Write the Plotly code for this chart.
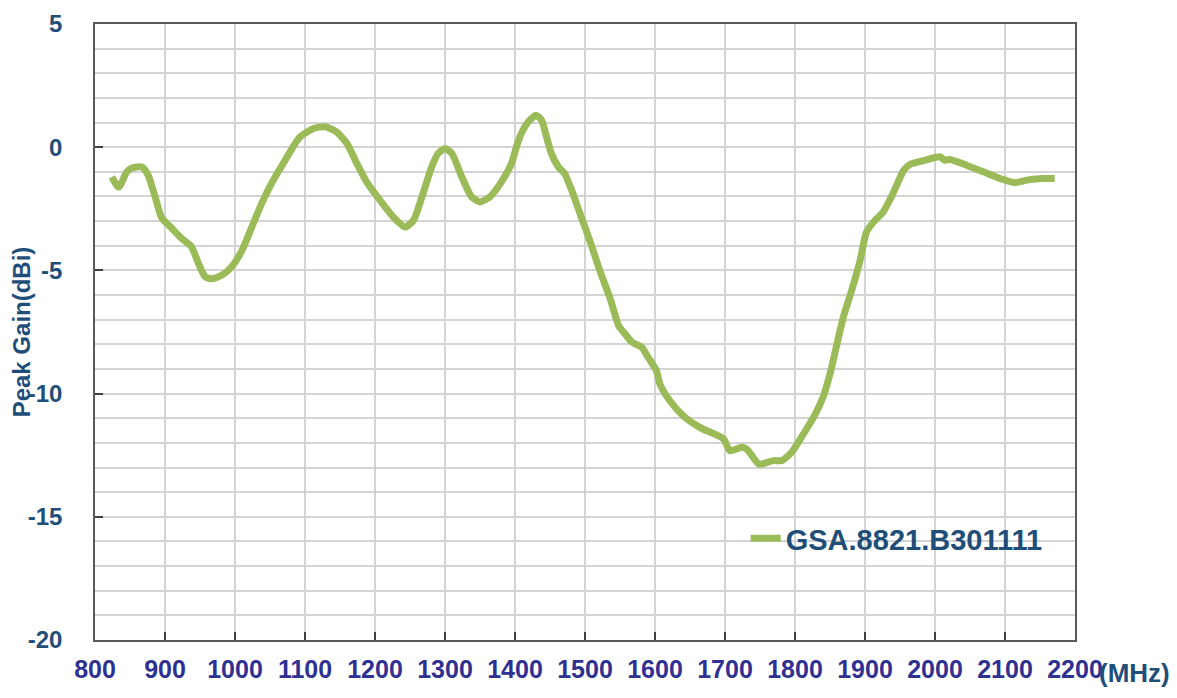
import plotly.graph_objects as go

freq_mhz = [824, 834, 845, 852, 867, 876, 886, 895, 910, 924, 938, 948, 957, 967, 981, 995,
            1010, 1024, 1038, 1052, 1067, 1086, 1093, 1112, 1129, 1145, 1160, 1174, 1188, 1207,
            1226, 1243, 1255, 1267, 1281, 1290, 1300, 1310, 1324, 1338, 1350, 1364, 1379, 1395,
            1402, 1410, 1419, 1430, 1438, 1445, 1452, 1462, 1471, 1481, 1493, 1507, 1521, 1536,
            1548, 1557, 1567, 1581, 1590, 1602, 1607, 1621, 1640, 1664, 1698, 1707, 1724, 1731,
            1748, 1752, 1769, 1781, 1795, 1812, 1829, 1840, 1850, 1860, 1869, 1881, 1893, 1902,
            1912, 1926, 1940, 1955, 1964, 1983, 2007, 2014, 2021, 2045, 2069, 2093, 2114, 2136,
            2155, 2171]
gain_dbi = [-1.21, -1.62, -1.02, -0.85, -0.80, -1.14, -2.02, -2.85, -3.30, -3.71, -4.05, -4.73,
            -5.25, -5.34, -5.20, -4.86, -4.19, -3.24, -2.29, -1.48, -0.75, 0.15, 0.42, 0.76, 0.83,
            0.62, 0.15, -0.66, -1.41, -2.15, -2.83, -3.24, -2.97, -2.02, -0.80, -0.26, -0.05,
            -0.26, -1.21, -2.02, -2.22, -2.02, -1.48, -0.66, 0.01, 0.62, 1.03, 1.30, 1.10, 0.42,
            -0.26, -0.80, -1.07, -1.75, -2.70, -3.80, -5.00, -6.15, -7.24, -7.57, -7.91, -8.12,
            -8.52, -9.07, -9.61, -10.28, -10.89, -11.37, -11.84, -12.32, -12.18, -12.25, -12.86,
            -12.86, -12.72, -12.72, -12.39, -11.64, -10.83, -10.15, -9.20, -7.98, -6.90, -5.81,
            -4.59, -3.45, -3.04, -2.63, -1.88, -0.95, -0.70, -0.55, -0.39, -0.53, -0.50, -0.73,
            -1.00, -1.27, -1.44, -1.31, -1.27, -1.27]
series_name = "GSA.8821.B301111"
x_ticks = list(range(800, 2201, 100))
y_ticks = [5, 0, -5, -10, -15, -20]

FONT = "Liberation Sans, Arial, sans-serif"
BLUE = "#1F4E79"
PURPLE = "#2E3192"

fig = go.Figure()
fig.add_trace(go.Scatter(
    x=freq_mhz, y=gain_dbi, mode="lines", name=series_name,
    line=dict(color="#9BBB59", width=7, shape="spline", smoothing=0.6),
))

fig.update_layout(
    width=1169, height=690,
    margin=dict(l=87, r=102, t=16, b=58, autoexpand=False),
    paper_bgcolor="white", plot_bgcolor="white",
    font=dict(family=FONT),
    showlegend=True,
    legend=dict(x=0.664, y=0.165, xanchor="left", yanchor="middle",
                bgcolor="rgba(0,0,0,0)", borderwidth=0,
                font=dict(family=FONT, size=29, color=BLUE, weight="bold"),
                itemwidth=30),
    shapes=[dict(type="rect", xref="paper", yref="paper",
                 x0=(731 - 95) / 980, x1=(1061 - 95) / 980,
                 y0=(640 - 580) / 616, y1=(640 - 497) / 616,
                 fillcolor="white", line=dict(width=0), layer="between")],
    annotations=[dict(text="(MHz)", xref="paper", yref="paper",
                      x=1.022, y=-0.053, xanchor="left", yanchor="middle",
                      showarrow=False,
                      font=dict(family=FONT, size=26, color=BLUE, weight="bold"))],
)

fig.update_xaxes(
    range=[800, 2200], tickvals=x_ticks, ticktext=[str(v) for v in x_ticks],
    showgrid=True, gridcolor="#D4D4D4", gridwidth=1.5,
    showline=True, linecolor="#595959", linewidth=1.5, mirror=True,
    ticks="inside", ticklen=8, tickcolor="#404040", tickwidth=1.5,
    tickfont=dict(family=FONT, size=25, color=PURPLE, weight="bold"),
    ticklabelstandoff=6, zeroline=False,
)
fig.update_yaxes(
    range=[-20, 5], tickvals=y_ticks, ticktext=[str(v) for v in y_ticks],
    showgrid=True, gridcolor="#D4D4D4", gridwidth=1.5,
    minor=dict(dtick=1, showgrid=True, gridcolor="#D4D4D4", gridwidth=1.5, ticks=""),
    showline=True, linecolor="#595959", linewidth=1.5, mirror=True,
    ticks="inside", ticklen=8, tickcolor="#404040", tickwidth=1.5,
    tickfont=dict(family=FONT, size=24, color=BLUE, weight="bold"),
    ticklabelstandoff=26, zeroline=False,
    title=dict(text="Peak Gain(dBi)", standoff=0,
               font=dict(family=FONT, size=24, color=BLUE, weight="bold")),
)

fig.write_html("out.html")
